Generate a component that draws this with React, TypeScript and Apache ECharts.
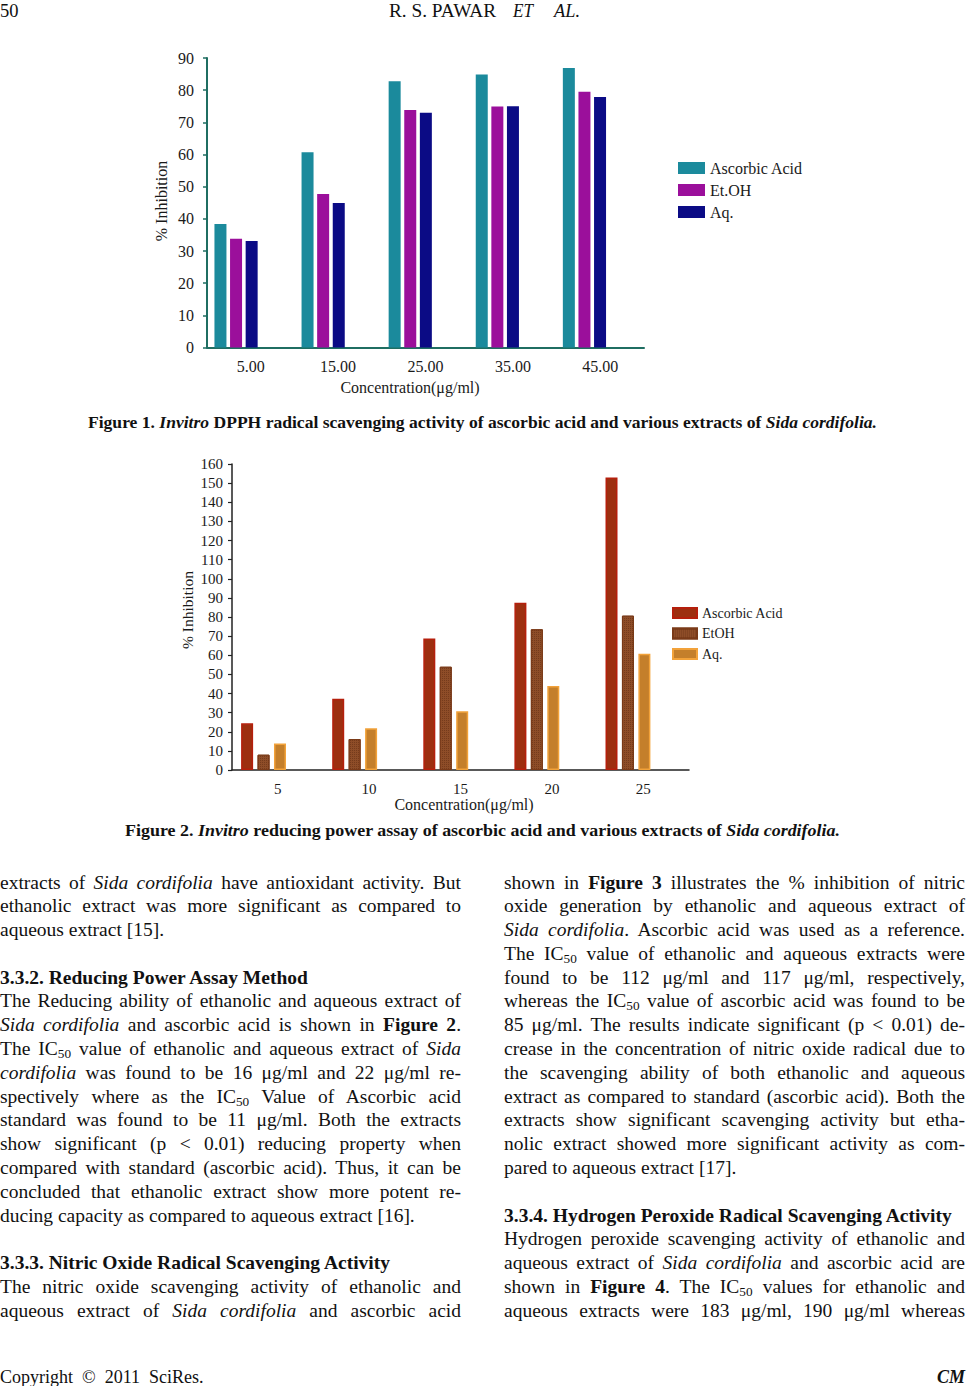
import React, { useEffect, useRef } from "react";
import * as echarts from "echarts";

// ---------- Figure 1 data ----------
const cats1 = ["5.00", "15.00", "25.00", "35.00", "45.00"];
const ascorbic1 = [38.4, 60.7, 82.8, 84.9, 86.9];
const ethanol1 = [33.8, 47.7, 73.8, 74.9, 79.5];
const aqueous1 = [33.1, 44.9, 73.0, 75.0, 77.9];
const names1 = ["Ascorbic Acid", "Et.OH", "Aq."];

// ---------- Figure 2 data ----------
const cats2 = ["5", "10", "15", "20", "25"];
const ascorbic2 = [24.4, 37.3, 68.8, 87.5, 153.0];
const ethanol2 = [8.0, 16.2, 54.0, 73.6, 80.7];
const aqueous2 = [13.8, 21.8, 30.7, 43.9, 60.8];
const names2 = ["Ascorbic Acid", "EtOH", "Aq."];

const FONT = "'Liberation Serif', 'Times New Roman', serif";

function Chart({ option, style }: { option: any; style: React.CSSProperties }) {
  const ref = useRef<HTMLDivElement>(null);
  useEffect(() => {
    if (!ref.current) return;
    const c = echarts.init(ref.current, null, { renderer: "svg" });
    c.setOption(option);
    return () => c.dispose();
  }, []);
  return <div ref={ref} style={style} />;
}

const teal = "#1f6e62";
const ink = "#1a1a1a";

const option1 = {
  animation: false,
  textStyle: { fontFamily: FONT },
  grid: [
    { left: 192.5, top: 58, width: 435.5, height: 289.5 },
    { left: 207, top: 58, width: 437, height: 289.5 },
  ],
  xAxis: [
    { gridIndex: 0, type: "category", data: cats1, show: false },
    {
      gridIndex: 1,
      type: "category",
      data: cats1,
      axisLine: { lineStyle: { color: teal, width: 2 } },
      axisTick: { alignWithLabel: true, length: 5, lineStyle: { color: teal, width: 1.5 } },
      axisLabel: { margin: 11, fontSize: 16, color: ink, fontFamily: FONT },
    },
  ],
  yAxis: [
    { gridIndex: 0, type: "value", min: 0, max: 90, interval: 10, show: false },
    {
      gridIndex: 1,
      type: "value",
      min: 0,
      max: 90,
      interval: 10,
      axisLine: { show: true, lineStyle: { color: teal, width: 2 } },
      axisTick: { show: true, length: 4, lineStyle: { color: teal, width: 1.5 } },
      splitLine: { show: false },
      axisLabel: { margin: 13, fontSize: 16, color: ink, fontFamily: FONT },
    },
  ],
  legend: {
    orient: "vertical",
    left: 678,
    top: 160,
    padding: 0,
    itemWidth: 27,
    itemHeight: 12,
    itemGap: 6,
    icon: "rect",
    data: names1,
    textStyle: { fontSize: 16, color: ink, fontFamily: FONT },
  },
  series: [
    { name: names1[0], type: "bar", data: ascorbic1, itemStyle: { color: "#1b8a9c" } },
    { name: names1[1], type: "bar", data: ethanol1, itemStyle: { color: "#9b0f9b" } },
    { name: names1[2], type: "bar", data: aqueous1, itemStyle: { color: "#0b0b85" } },
  ].map((s) => ({ ...s, xAxisIndex: 0, yAxisIndex: 0, barWidth: 12, barGap: "30%" })),
  graphic: [
    {
      type: "text",
      x: 161,
      y: 201,
      rotation: Math.PI / 2,
      style: { text: "% Inhibition", align: "center", verticalAlign: "middle", fontSize: 16, fontFamily: FONT, fill: ink },
    },
    {
      type: "text",
      x: 410,
      y: 387,
      style: { text: "Concentration(μg/ml)", align: "center", verticalAlign: "middle", fontSize: 16, fontFamily: FONT, fill: ink },
    },
  ],
};

const option2 = {
  animation: false,
  textStyle: { fontFamily: FONT },
  grid: [
    { left: 218, top: 24, width: 455.5, height: 306 },
    { left: 232, top: 24, width: 457, height: 306 },
  ],
  xAxis: [
    { gridIndex: 0, type: "category", data: cats2, show: false },
    {
      gridIndex: 1,
      type: "category",
      data: cats2,
      axisLine: { lineStyle: { color: "#222", width: 1.5 } },
      axisTick: { alignWithLabel: true, length: 5, lineStyle: { color: "#222", width: 1.2 } },
      axisLabel: { margin: 11, fontSize: 15, color: ink, fontFamily: FONT },
    },
  ],
  yAxis: [
    { gridIndex: 0, type: "value", min: 0, max: 160, interval: 10, show: false },
    {
      gridIndex: 1,
      type: "value",
      min: 0,
      max: 160,
      interval: 10,
      axisLine: { show: true, lineStyle: { color: "#222", width: 1.5 } },
      axisTick: { show: true, length: 4, lineStyle: { color: "#222", width: 1.2 } },
      splitLine: { show: false },
      axisLabel: { margin: 9, fontSize: 15, color: ink, fontFamily: FONT },
    },
  ],
  legend: {
    orient: "vertical",
    left: 672,
    top: 166,
    padding: 0,
    itemWidth: 24,
    itemHeight: 10,
    itemGap: 6.5,
    icon: "rect",
    data: names2,
    textStyle: { fontSize: 14, color: ink, fontFamily: FONT },
  },
  series: [
    { name: names2[0], type: "bar", data: ascorbic2, itemStyle: { color: "#9d2f10", borderColor: "#b51f0c", borderWidth: 1.5 } },
    {
      name: names2[1],
      type: "bar",
      data: ethanol2,
      itemStyle: {
        color: "#8e4d28",
        borderColor: "#7a3a18",
        borderWidth: 1,
        decal: {
          symbol: "rect",
          symbolSize: 1,
          dashArrayX: [1, 1],
          dashArrayY: [1, 1],
          rotation: 0,
          color: "rgba(70, 25, 5, 0.35)",
        },
      },
    },
    { name: names2[2], type: "bar", data: aqueous2, itemStyle: { color: "#c47f2b", borderColor: "#f2a23a", borderWidth: 1.5 } },
  ].map((s) => ({ ...s, xAxisIndex: 0, yAxisIndex: 0, barWidth: 12, barGap: "37%" })),
  graphic: [
    {
      type: "text",
      x: 187,
      y: 170,
      rotation: Math.PI / 2,
      style: { text: "% Inhibition", align: "center", verticalAlign: "middle", fontSize: 15.5, fontFamily: FONT, fill: ink },
    },
    {
      type: "text",
      x: 464,
      y: 364,
      style: { text: "Concentration(μg/ml)", align: "center", verticalAlign: "middle", fontSize: 16, fontFamily: FONT, fill: ink },
    },
  ],
};

const LH = 23.8;
const Sub = ({ children }: { children: any }) => (
  <span style={{ fontSize: "0.68em", verticalAlign: "-0.22em", lineHeight: 0 }}>{children}</span>
);
const I = ({ children }: { children: any }) => <i>{children}</i>;
const B = ({ children }: { children: any }) => <b>{children}</b>;

function Line({ j, children }: { j?: boolean; children?: any }) {
  return (
    <div
      style={{
        height: LH,
        lineHeight: LH + "px",
        textAlign: j ? "justify" : "left",
        textAlignLast: j ? "justify" : "left",
        whiteSpace: j ? "normal" : "nowrap",
      }}
    >
      {children}
    </div>
  );
}

const leftCol = [
  <Line j>extracts of <I>Sida cordifolia</I> have antioxidant activity. But</Line>,
  <Line j>ethanolic extract was more significant as compared to</Line>,
  <Line>aqueous extract [15].</Line>,
  <Line />,
  <Line><B>3.3.2. Reducing Power Assay Method</B></Line>,
  <Line j>The Reducing ability of ethanolic and aqueous extract of</Line>,
  <Line j><I>Sida cordifolia</I> and ascorbic acid is shown in <B>Figure 2</B>.</Line>,
  <Line j>The IC<Sub>50</Sub> value of ethanolic and aqueous extract of <I>Sida</I></Line>,
  <Line j><I>cordifolia</I> was found to be 16 μg/ml and 22 μg/ml re-</Line>,
  <Line j>spectively where as the IC<Sub>50</Sub> Value of Ascorbic acid</Line>,
  <Line j>standard was found to be 11 μg/ml. Both the extracts</Line>,
  <Line j>show significant (p &lt; 0.01) reducing property when</Line>,
  <Line j>compared with standard (ascorbic acid). Thus, it can be</Line>,
  <Line j>concluded that ethanolic extract show more potent re-</Line>,
  <Line>ducing capacity as compared to aqueous extract [16].</Line>,
  <Line />,
  <Line><B>3.3.3. Nitric Oxide Radical Scavenging Activity</B></Line>,
  <Line j>The nitric oxide scavenging activity of ethanolic and</Line>,
  <Line j>aqueous extract of <I>Sida cordifolia</I> and ascorbic acid</Line>,
];

const rightCol = [
  <Line j>shown in <B>Figure 3</B> illustrates the % inhibition of nitric</Line>,
  <Line j>oxide generation by ethanolic and aqueous extract of</Line>,
  <Line j><I>Sida cordifolia</I>. Ascorbic acid was used as a reference.</Line>,
  <Line j>The IC<Sub>50</Sub> value of ethanolic and aqueous extracts were</Line>,
  <Line j>found to be 112 μg/ml and 117 μg/ml, respectively,</Line>,
  <Line j>whereas the IC<Sub>50</Sub> value of ascorbic acid was found to be</Line>,
  <Line j>85 μg/ml. The results indicate significant (p &lt; 0.01) de-</Line>,
  <Line j>crease in the concentration of nitric oxide radical due to</Line>,
  <Line j>the scavenging ability of both ethanolic and aqueous</Line>,
  <Line j>extract as compared to standard (ascorbic acid). Both the</Line>,
  <Line j>extracts show significant scavenging activity but etha-</Line>,
  <Line j>nolic extract showed more significant activity as com-</Line>,
  <Line>pared to aqueous extract [17].</Line>,
  <Line />,
  <Line><B>3.3.4. Hydrogen Peroxide Radical Scavenging Activity</B></Line>,
  <Line j>Hydrogen peroxide scavenging activity of ethanolic and</Line>,
  <Line j>aqueous extract of <I>Sida cordifolia</I> and ascorbic acid are</Line>,
  <Line j>shown in <B>Figure 4</B>. The IC<Sub>50</Sub> values for ethanolic and</Line>,
  <Line j>aqueous extracts were 183 μg/ml, 190 μg/ml whereas</Line>,
];

const colStyle = (left: number): React.CSSProperties => ({
  position: "absolute",
  left,
  top: 870.5,
  width: 461,
  fontFamily: FONT,
  fontSize: 19.5,
  color: "#111",
});

export default function App() {
  return (
    <div style={{ position: "absolute", left: 0, top: 0, width: 967, height: 1386, background: "#fff", overflow: "hidden" }}>
      <Chart option={option1} style={{ position: "absolute", left: 0, top: 0, width: 967, height: 410 }} />
      <Chart option={option2} style={{ position: "absolute", left: 0, top: 440, width: 967, height: 400 }} />
      <svg
        width={967}
        height={1386}
        style={{ position: "absolute", left: 0, top: 0, pointerEvents: "none" }}
        fontFamily={FONT}
      >
        <text x={0} y={17} fontSize={19} textLength={18.5} lengthAdjust="spacingAndGlyphs" fill="#111">50</text>
        <text x={389} y={17} fontSize={19} textLength={107} lengthAdjust="spacingAndGlyphs" fill="#111">R. S. PAWAR</text>
        <text x={513} y={17} fontSize={19} fontStyle="italic" textLength={20} lengthAdjust="spacingAndGlyphs" fill="#111">ET</text>
        <text x={554} y={17} fontSize={19} fontStyle="italic" textLength={26} lengthAdjust="spacingAndGlyphs" fill="#111">AL.</text>
        <text x={88} y={428} fontSize={17} fontWeight="bold" textLength={789} lengthAdjust="spacingAndGlyphs" fill="#111">
          Figure 1. <tspan fontStyle="italic">Invitro</tspan> DPPH radical scavenging activity of ascorbic acid and various extracts of{" "}
          <tspan fontStyle="italic">Sida cordifolia.</tspan>
        </text>
        <text x={125} y={836} fontSize={17} fontWeight="bold" textLength={715} lengthAdjust="spacingAndGlyphs" fill="#111">
          Figure 2. <tspan fontStyle="italic">Invitro</tspan> reducing power assay of ascorbic acid and various extracts of{" "}
          <tspan fontStyle="italic">Sida cordifolia.</tspan>
        </text>
      </svg>
      <div style={colStyle(0)}>{leftCol.map((l, i) => <React.Fragment key={i}>{l}</React.Fragment>)}</div>
      <div style={colStyle(504)}>{rightCol.map((l, i) => <React.Fragment key={i}>{l}</React.Fragment>)}</div>
      <div
        style={{
          position: "absolute",
          left: 0,
          top: 1366,
          width: 965,
          height: 22,
          lineHeight: "22px",
          fontFamily: FONT,
          fontSize: 18,
          color: "#111",
          display: "flex",
          justifyContent: "space-between",
          whiteSpace: "pre",
        }}
      >
        <span>Copyright  ©  2011  SciRes.</span>
        <span style={{ fontWeight: "bold", fontStyle: "italic" }}>CM</span>
      </div>
    </div>
  );
}
